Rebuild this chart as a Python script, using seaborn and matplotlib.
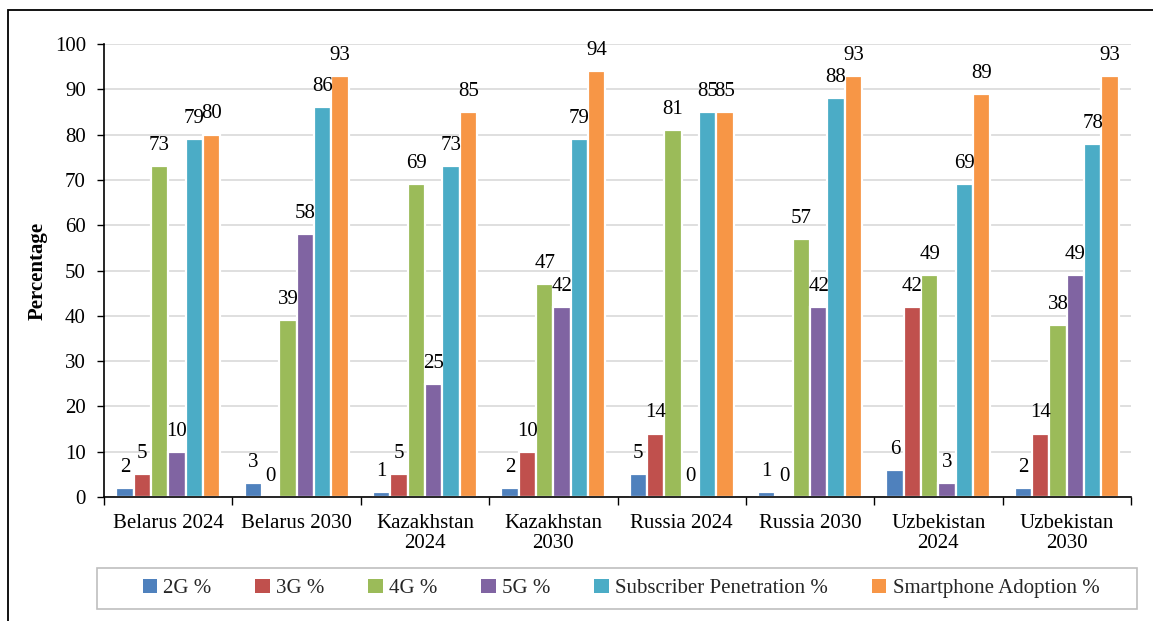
import matplotlib
matplotlib.use("Agg")
import matplotlib.pyplot as plt
from matplotlib.patches import Rectangle
from matplotlib.ticker import FixedLocator, NullFormatter
import seaborn as sns
import pandas as pd

categories = ["Belarus 2024", "Belarus 2030", "Kazakhstan\n2024", "Kazakhstan\n2030",
              "Russia 2024", "Russia 2030", "Uzbekistan\n2024", "Uzbekistan\n2030"]
series = ["2G %", "3G %", "4G %", "5G %", "Subscriber Penetration %", "Smartphone Adoption %"]
g2 = [2, 3, 1, 2, 5, 1, 6, 2]
g3 = [5, 0, 5, 10, 14, 0, 42, 14]
g4 = [73, 39, 69, 47, 81, 57, 49, 38]
g5 = [10, 58, 25, 42, 0, 42, 3, 49]
subscriber = [79, 86, 73, 79, 85, 88, 69, 78]
smartphone = [80, 93, 85, 94, 85, 93, 89, 93]
colors = ["#4F81BD", "#C0504D", "#9BBB59", "#8064A2", "#4BACC6", "#F79646"]

values = [g2, g3, g4, g5, subscriber, smartphone]
rows = []
for s, vals in zip(series, values):
    for c, v in zip(categories, vals):
        rows.append({"Category": c, "Series": s, "Value": v})
df = pd.DataFrame(rows)

sns.set_theme(style="white")
plt.rcParams["font.family"] = ["Liberation Serif", "DejaVu Serif"]

FS = 15

fig = plt.figure(figsize=(11.53, 6.21), dpi=100)
ax = fig.add_axes([104 / 1153, 1 - 497 / 621, (1131 - 104) / 1153, (497 - 44) / 621])

sns.barplot(data=df, x="Category", y="Value", hue="Series", order=categories,
            hue_order=series, palette=colors, width=0.81, saturation=1,
            edgecolor="white", linewidth=1.6, errorbar=None, ax=ax, legend=True)

for cont in ax.containers:
    ax.bar_label(cont, fmt="%g", padding=8, fontsize=FS, color="black")

ax.set_ylim(0, 100)
ax.set_xlim(-0.5, len(categories) - 0.5)
ax.set_yticks(range(0, 101, 10))
ax.yaxis.grid(True, color="#D9D9D9", linewidth=1.2)
ax.set_axisbelow(True)
ax.tick_params(axis="y", which="major", left=True, length=5, width=1, color="black",
               labelsize=FS, pad=8)
ax.tick_params(axis="x", which="major", bottom=False, length=0, labelsize=FS, pad=12)
ax.xaxis.set_minor_locator(FixedLocator([i - 0.5 for i in range(len(categories) + 1)]))
ax.xaxis.set_minor_formatter(NullFormatter())
ax.tick_params(axis="x", which="minor", bottom=True, length=6, width=1, color="black")
for lbl in ax.get_yticklabels() + ax.get_xticklabels():
    lbl.set_color("black")
for lbl in ax.get_xticklabels():
    lbl.set_linespacing(1.1)

for side in ["top", "right"]:
    ax.spines[side].set_visible(False)
for side in ["left", "bottom"]:
    ax.spines[side].set_color("black")
    ax.spines[side].set_linewidth(1.2)

ax.set_xlabel("")
ax.set_ylabel("Percentage", fontsize=FS, fontweight="bold", color="black", labelpad=5)

handles, labels = ax.get_legend_handles_labels()
ax.get_legend().remove()
leg = fig.legend(handles, labels, ncol=6,
                 bbox_to_anchor=(101 / 1153, 1 - 609 / 621, (1137 - 97) / 1153, 41 / 621),
                 loc="center", fontsize=FS, frameon=False,
                 handlelength=0.7, handleheight=0.7, columnspacing=2.1,
                 handletextpad=0.3, borderaxespad=0)
for h in leg.legend_handles:
    h.set_edgecolor("none")

# legend box spanning the full width under the plot
fig.add_artist(Rectangle((97 / 1153, 1 - 609 / 621), (1137 - 97) / 1153, 41 / 621,
                         transform=fig.transFigure, fill=False,
                         edgecolor="#BFBFBF", linewidth=1.2))

fig.add_artist(Rectangle((8 / 1153, -0.1), 1.2, 1 - 10 / 621 + 0.1,
                         transform=fig.transFigure, fill=False,
                         edgecolor="black", linewidth=1.3))

fig.savefig("out.png", dpi=100)
